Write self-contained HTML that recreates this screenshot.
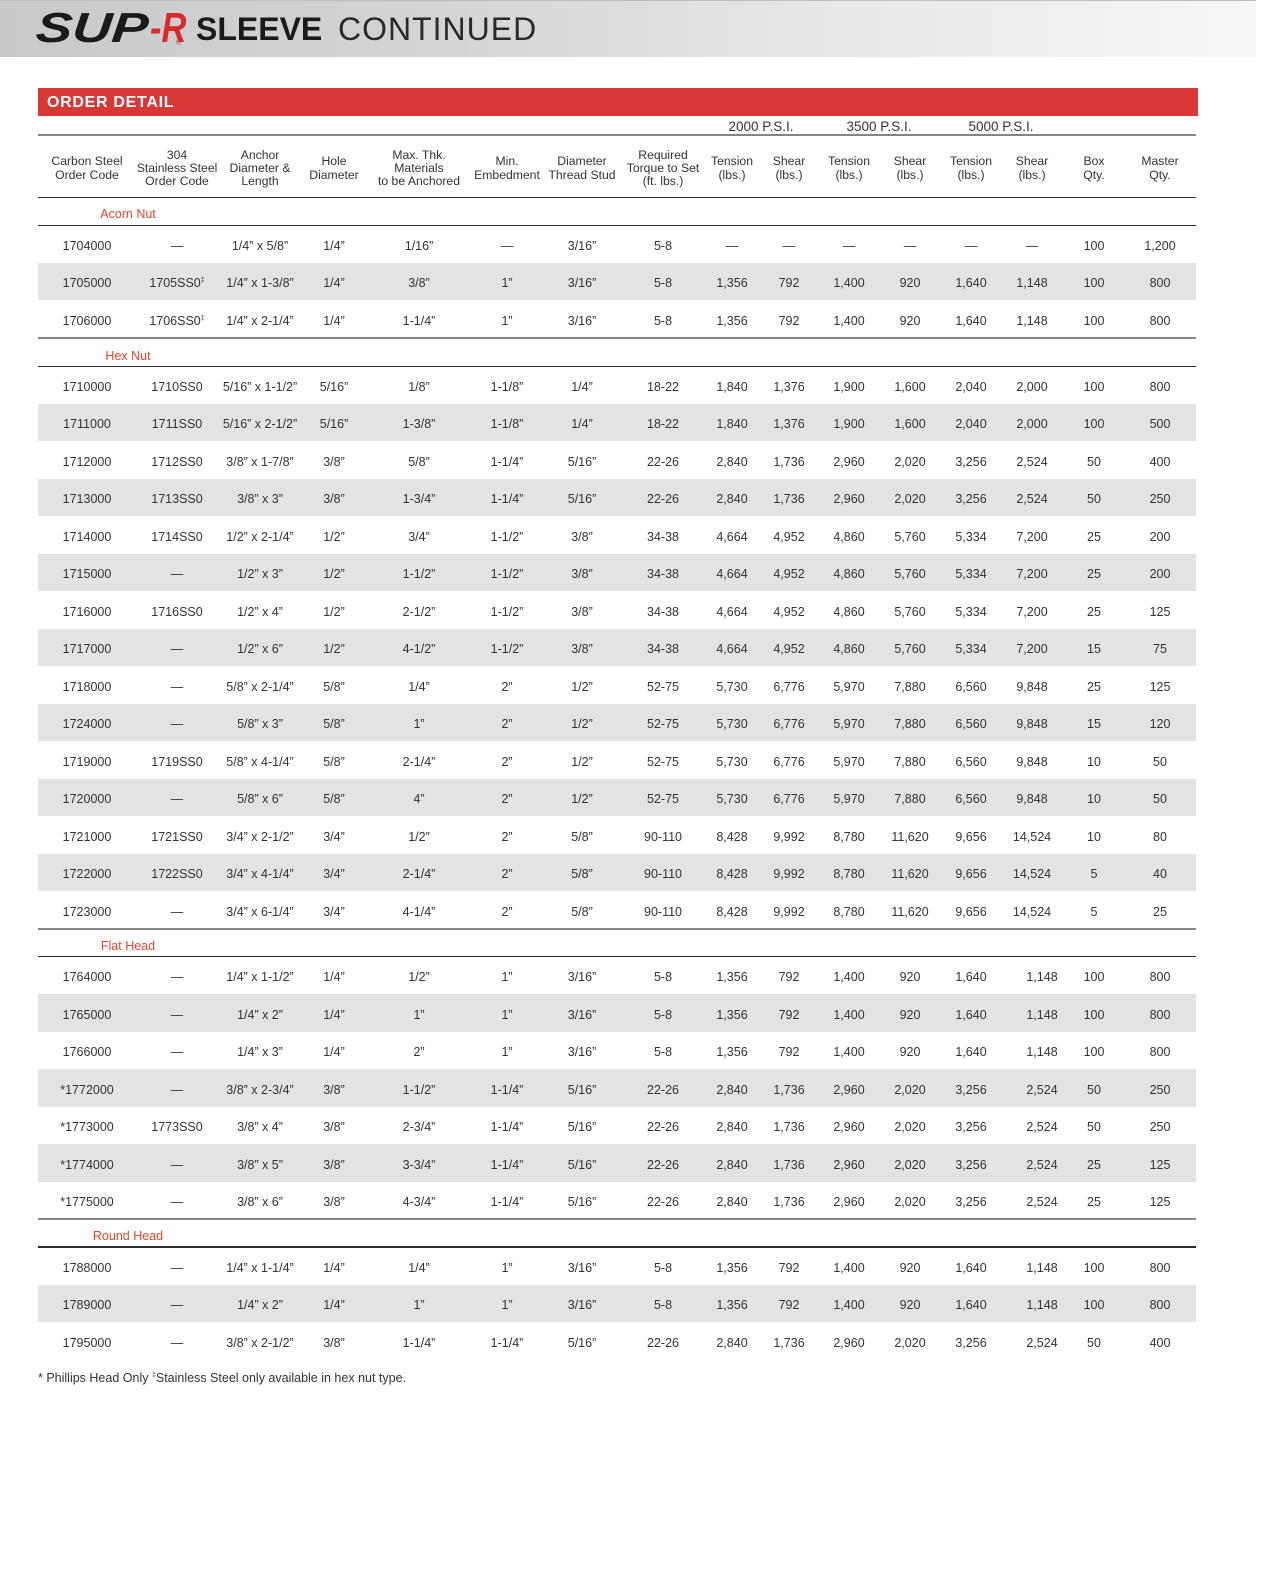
<!DOCTYPE html>
<html><head><meta charset="utf-8">
<style>
*{margin:0;padding:0;box-sizing:border-box}
body{width:1275px;height:1570px;background:#fff;position:relative;overflow:hidden;font-family:"Liberation Sans",Arial,sans-serif;color:#333}
.band{position:absolute;left:0;top:0;width:1256px;height:57px;background:linear-gradient(to right,#c8c9cb 0%,#d3d4d6 35%,#e6e7e9 65%,#f7f7f7 100%);border-top:1px solid #bdbec0}
.logo{position:absolute;left:38px;top:6.5px;font:italic 900 42px/42px "Liberation Sans",sans-serif;color:#1a1a1a;transform-origin:0 0;transform:scaleX(1.3) skewX(-4deg);white-space:nowrap}
.logo2{position:absolute;left:150px;top:6.5px;font:italic 900 42px/42px "Liberation Sans",sans-serif;color:#d62b2b;transform-origin:0 0;transform:scaleX(0.82);white-space:nowrap}
.reg{position:absolute;left:176px;top:40px;font-size:7px;color:#d62b2b}
.t1{position:absolute;left:196px;top:11px;font:700 32px/36px "Liberation Sans",sans-serif;color:#1a1a1a;white-space:nowrap}
.t2{position:absolute;left:338px;top:11px;font:400 32px/36px "Liberation Sans",sans-serif;color:#2a2a2a;letter-spacing:1px;white-space:nowrap}
.bar{position:absolute;left:38px;top:88px;width:1160px;height:28px;background:#d93636;color:#fff;font:700 16px/28px "Liberation Sans",sans-serif;padding-left:9px;padding-top:1px;letter-spacing:0.7px}
.r{position:absolute;left:38px;width:1158px;height:37.5px;display:grid;grid-template-columns:98px 82px 84px 64px 106px 70px 80px 82px 56px 58px 62px 60px 62px 60px 64px 68px;align-items:center;font-size:12.5px;color:#333}
.r span{justify-self:center;white-space:nowrap;position:relative;top:2px}
.r span.s{padding-left:20px}
.st{background:#e3e3e3}
.h{height:61px;font-size:12.2px;line-height:13.3px;text-align:center;color:#333}
.h span{text-align:center;top:2px}
.psi{position:absolute;top:117px;height:19px;font-size:13.5px;line-height:19px;text-align:center;color:#333}
.g{position:absolute;left:38px;width:1158px;height:2px;background:#858585}
.d{position:absolute;left:38px;width:1158px;height:1.5px;background:#2b2b2b}
.lab{position:absolute;left:38px;width:180px;height:28px;line-height:28px;padding-top:3px;text-align:center;font-size:12.5px;color:#e2472c}
sup{font-size:7px;vertical-align:5px;line-height:0}
.foot{position:absolute;left:38px;top:1369px;font-size:12.5px;line-height:18px;color:#333;white-space:nowrap}
</style></head><body>
<div class="band"></div>
<div class="logo">SUP</div>
<div class="logo2">-R</div>
<div class="reg">®</div>
<div class="t1">SLEEVE</div>
<div class="t2">CONTINUED</div>
<div class="bar">ORDER DETAIL</div>

<div class="psi" style="left:704px;width:114px">2000 P.S.I.</div>
<div class="psi" style="left:818px;width:122px">3500 P.S.I.</div>
<div class="psi" style="left:940px;width:122px">5000 P.S.I.</div>
<div class="g" style="top:134px"></div>

<div class="r h" style="top:136px">
<span>Carbon Steel<br>Order Code</span><span>304<br>Stainless Steel<br>Order Code</span><span>Anchor<br>Diameter &amp;<br>Length</span><span>Hole<br>Diameter</span><span>Max. Thk.<br>Materials<br>to be Anchored</span><span>Min.<br>Embedment</span><span>Diameter<br>Thread Stud</span><span>Required<br>Torque to Set<br>(ft. lbs.)</span><span>Tension<br>(lbs.)</span><span>Shear<br>(lbs.)</span><span>Tension<br>(lbs.)</span><span>Shear<br>(lbs.)</span><span>Tension<br>(lbs.)</span><span>Shear<br>(lbs.)</span><span>Box<br>Qty.</span><span>Master<br>Qty.</span>
</div>
<div class="d" style="top:196.5px"></div>

<div class="lab" style="top:197px">Acorn Nut</div>
<div class="d" style="top:224.5px"></div>

<div class="r" style="top:225px"><span>1704000</span><span>—</span><span>1/4” x 5/8”</span><span>1/4”</span><span>1/16”</span><span>—</span><span>3/16”</span><span>5-8</span><span>—</span><span>—</span><span>—</span><span>—</span><span>—</span><span>—</span><span>100</span><span>1,200</span></div>
<div class="r st" style="top:262.5px"><span>1705000</span><span>1705SS0<sup>‡</sup></span><span>1/4” x 1-3/8”</span><span>1/4”</span><span>3/8”</span><span>1”</span><span>3/16”</span><span>5-8</span><span>1,356</span><span>792</span><span>1,400</span><span>920</span><span>1,640</span><span>1,148</span><span>100</span><span>800</span></div>
<div class="r" style="top:300px"><span>1706000</span><span>1706SS0<sup>‡</sup></span><span>1/4” x 2-1/4”</span><span>1/4”</span><span>1-1/4”</span><span>1”</span><span>3/16”</span><span>5-8</span><span>1,356</span><span>792</span><span>1,400</span><span>920</span><span>1,640</span><span>1,148</span><span>100</span><span>800</span></div>
<div class="g" style="top:337px"></div>

<div class="lab" style="top:339px">Hex Nut</div>
<div class="d" style="top:365.5px"></div>

<div class="r" style="top:366px"><span>1710000</span><span>1710SS0</span><span>5/16” x 1-1/2”</span><span>5/16”</span><span>1/8”</span><span>1-1/8”</span><span>1/4”</span><span>18-22</span><span>1,840</span><span>1,376</span><span>1,900</span><span>1,600</span><span>2,040</span><span>2,000</span><span>100</span><span>800</span></div>
<div class="r st" style="top:403.5px"><span>1711000</span><span>1711SS0</span><span>5/16” x 2-1/2”</span><span>5/16”</span><span>1-3/8”</span><span>1-1/8”</span><span>1/4”</span><span>18-22</span><span>1,840</span><span>1,376</span><span>1,900</span><span>1,600</span><span>2,040</span><span>2,000</span><span>100</span><span>500</span></div>
<div class="r" style="top:441px"><span>1712000</span><span>1712SS0</span><span>3/8” x 1-7/8”</span><span>3/8”</span><span>5/8”</span><span>1-1/4”</span><span>5/16”</span><span>22-26</span><span>2,840</span><span>1,736</span><span>2,960</span><span>2,020</span><span>3,256</span><span>2,524</span><span>50</span><span>400</span></div>
<div class="r st" style="top:478.5px"><span>1713000</span><span>1713SS0</span><span>3/8” x 3”</span><span>3/8”</span><span>1-3/4”</span><span>1-1/4”</span><span>5/16”</span><span>22-26</span><span>2,840</span><span>1,736</span><span>2,960</span><span>2,020</span><span>3,256</span><span>2,524</span><span>50</span><span>250</span></div>
<div class="r" style="top:516px"><span>1714000</span><span>1714SS0</span><span>1/2” x 2-1/4”</span><span>1/2”</span><span>3/4”</span><span>1-1/2”</span><span>3/8”</span><span>34-38</span><span>4,664</span><span>4,952</span><span>4,860</span><span>5,760</span><span>5,334</span><span>7,200</span><span>25</span><span>200</span></div>
<div class="r st" style="top:553.5px"><span>1715000</span><span>—</span><span>1/2” x 3”</span><span>1/2”</span><span>1-1/2”</span><span>1-1/2”</span><span>3/8”</span><span>34-38</span><span>4,664</span><span>4,952</span><span>4,860</span><span>5,760</span><span>5,334</span><span>7,200</span><span>25</span><span>200</span></div>
<div class="r" style="top:591px"><span>1716000</span><span>1716SS0</span><span>1/2” x 4”</span><span>1/2”</span><span>2-1/2”</span><span>1-1/2”</span><span>3/8”</span><span>34-38</span><span>4,664</span><span>4,952</span><span>4,860</span><span>5,760</span><span>5,334</span><span>7,200</span><span>25</span><span>125</span></div>
<div class="r st" style="top:628.5px"><span>1717000</span><span>—</span><span>1/2” x 6”</span><span>1/2”</span><span>4-1/2”</span><span>1-1/2”</span><span>3/8”</span><span>34-38</span><span>4,664</span><span>4,952</span><span>4,860</span><span>5,760</span><span>5,334</span><span>7,200</span><span>15</span><span>75</span></div>
<div class="r" style="top:666px"><span>1718000</span><span>—</span><span>5/8” x 2-1/4”</span><span>5/8”</span><span>1/4”</span><span>2”</span><span>1/2”</span><span>52-75</span><span>5,730</span><span>6,776</span><span>5,970</span><span>7,880</span><span>6,560</span><span>9,848</span><span>25</span><span>125</span></div>
<div class="r st" style="top:703.5px"><span>1724000</span><span>—</span><span>5/8” x 3”</span><span>5/8”</span><span>1”</span><span>2”</span><span>1/2”</span><span>52-75</span><span>5,730</span><span>6,776</span><span>5,970</span><span>7,880</span><span>6,560</span><span>9,848</span><span>15</span><span>120</span></div>
<div class="r" style="top:741px"><span>1719000</span><span>1719SS0</span><span>5/8” x 4-1/4”</span><span>5/8”</span><span>2-1/4”</span><span>2”</span><span>1/2”</span><span>52-75</span><span>5,730</span><span>6,776</span><span>5,970</span><span>7,880</span><span>6,560</span><span>9,848</span><span>10</span><span>50</span></div>
<div class="r st" style="top:778.5px"><span>1720000</span><span>—</span><span>5/8” x 6”</span><span>5/8”</span><span>4”</span><span>2”</span><span>1/2”</span><span>52-75</span><span>5,730</span><span>6,776</span><span>5,970</span><span>7,880</span><span>6,560</span><span>9,848</span><span>10</span><span>50</span></div>
<div class="r" style="top:816px"><span>1721000</span><span>1721SS0</span><span>3/4” x 2-1/2”</span><span>3/4”</span><span>1/2”</span><span>2”</span><span>5/8”</span><span>90-110</span><span>8,428</span><span>9,992</span><span>8,780</span><span>11,620</span><span>9,656</span><span>14,524</span><span>10</span><span>80</span></div>
<div class="r st" style="top:853.5px"><span>1722000</span><span>1722SS0</span><span>3/4” x 4-1/4”</span><span>3/4”</span><span>2-1/4”</span><span>2”</span><span>5/8”</span><span>90-110</span><span>8,428</span><span>9,992</span><span>8,780</span><span>11,620</span><span>9,656</span><span>14,524</span><span>5</span><span>40</span></div>
<div class="r" style="top:891px"><span>1723000</span><span>—</span><span>3/4” x 6-1/4”</span><span>3/4”</span><span>4-1/4”</span><span>2”</span><span>5/8”</span><span>90-110</span><span>8,428</span><span>9,992</span><span>8,780</span><span>11,620</span><span>9,656</span><span>14,524</span><span>5</span><span>25</span></div>
<div class="g" style="top:928px"></div>

<div class="lab" style="top:929px">Flat Head</div>
<div class="d" style="top:955.5px"></div>

<div class="r" style="top:956.5px"><span>1764000</span><span>—</span><span>1/4” x 1-1/2”</span><span>1/4”</span><span>1/2”</span><span>1”</span><span>3/16”</span><span>5-8</span><span>1,356</span><span>792</span><span>1,400</span><span>920</span><span>1,640</span><span class="s">1,148</span><span>100</span><span>800</span></div>
<div class="r st" style="top:994px"><span>1765000</span><span>—</span><span>1/4” x 2”</span><span>1/4”</span><span>1”</span><span>1”</span><span>3/16”</span><span>5-8</span><span>1,356</span><span>792</span><span>1,400</span><span>920</span><span>1,640</span><span class="s">1,148</span><span>100</span><span>800</span></div>
<div class="r" style="top:1031.5px"><span>1766000</span><span>—</span><span>1/4” x 3”</span><span>1/4”</span><span>2”</span><span>1”</span><span>3/16”</span><span>5-8</span><span>1,356</span><span>792</span><span>1,400</span><span>920</span><span>1,640</span><span class="s">1,148</span><span>100</span><span>800</span></div>
<div class="r st" style="top:1069px"><span>*1772000</span><span>—</span><span>3/8” x 2-3/4”</span><span>3/8”</span><span>1-1/2”</span><span>1-1/4”</span><span>5/16”</span><span>22-26</span><span>2,840</span><span>1,736</span><span>2,960</span><span>2,020</span><span>3,256</span><span class="s">2,524</span><span>50</span><span>250</span></div>
<div class="r" style="top:1106.5px"><span>*1773000</span><span>1773SS0</span><span>3/8” x 4”</span><span>3/8”</span><span>2-3/4”</span><span>1-1/4”</span><span>5/16”</span><span>22-26</span><span>2,840</span><span>1,736</span><span>2,960</span><span>2,020</span><span>3,256</span><span class="s">2,524</span><span>50</span><span>250</span></div>
<div class="r st" style="top:1144px"><span>*1774000</span><span>—</span><span>3/8” x 5”</span><span>3/8”</span><span>3-3/4”</span><span>1-1/4”</span><span>5/16”</span><span>22-26</span><span>2,840</span><span>1,736</span><span>2,960</span><span>2,020</span><span>3,256</span><span class="s">2,524</span><span>25</span><span>125</span></div>
<div class="r" style="top:1181.5px"><span>*1775000</span><span>—</span><span>3/8” x 6”</span><span>3/8”</span><span>4-3/4”</span><span>1-1/4”</span><span>5/16”</span><span>22-26</span><span>2,840</span><span>1,736</span><span>2,960</span><span>2,020</span><span>3,256</span><span class="s">2,524</span><span>25</span><span>125</span></div>
<div class="g" style="top:1218px"></div>

<div class="lab" style="top:1219px">Round Head</div>
<div class="d" style="top:1246px"></div>

<div class="r" style="top:1247px"><span>1788000</span><span>—</span><span>1/4” x 1-1/4”</span><span>1/4”</span><span>1/4”</span><span>1”</span><span>3/16”</span><span>5-8</span><span>1,356</span><span>792</span><span>1,400</span><span>920</span><span>1,640</span><span class="s">1,148</span><span>100</span><span>800</span></div>
<div class="r st" style="top:1284.5px"><span>1789000</span><span>—</span><span>1/4” x 2”</span><span>1/4”</span><span>1”</span><span>1”</span><span>3/16”</span><span>5-8</span><span>1,356</span><span>792</span><span>1,400</span><span>920</span><span>1,640</span><span class="s">1,148</span><span>100</span><span>800</span></div>
<div class="r" style="top:1322px"><span>1795000</span><span>—</span><span>3/8” x 2-1/2”</span><span>3/8”</span><span>1-1/4”</span><span>1-1/4”</span><span>5/16”</span><span>22-26</span><span>2,840</span><span>1,736</span><span>2,960</span><span>2,020</span><span>3,256</span><span class="s">2,524</span><span>50</span><span>400</span></div>

<div class="foot">* Phillips Head Only <sup>‡</sup>Stainless Steel only available in hex nut type.</div>
</body></html>
